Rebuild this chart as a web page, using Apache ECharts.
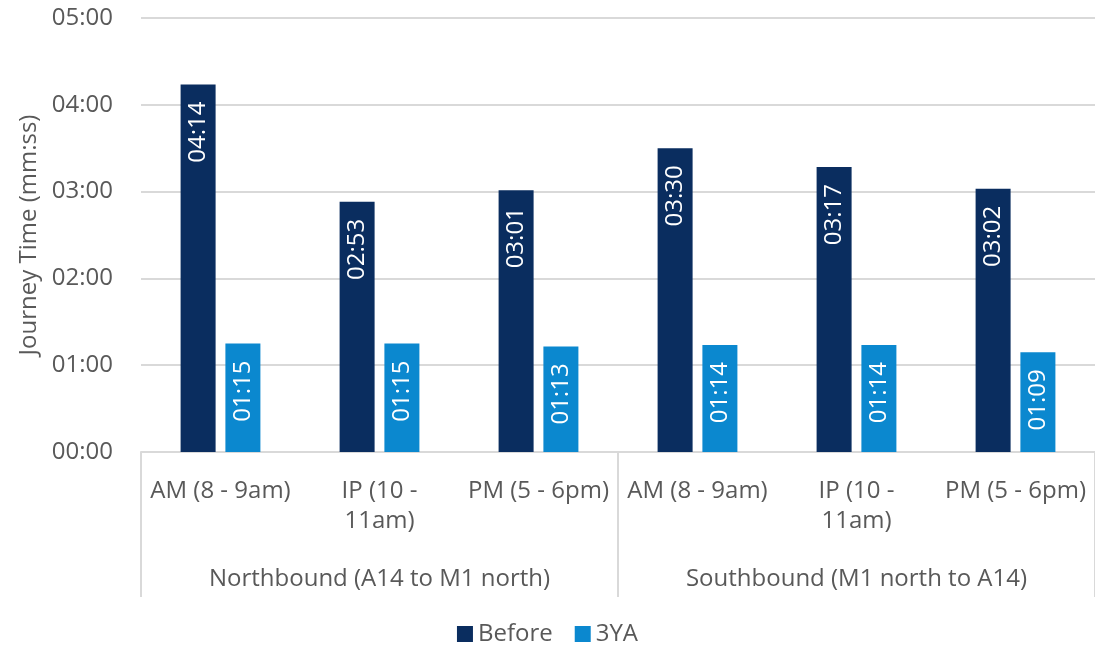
<!DOCTYPE html>
<html>
<head>
<meta charset="utf-8">
<script src="https://cdn.jsdelivr.net/npm/echarts@6/dist/echarts.min.js"></script>
<style>
  html, body { margin: 0; padding: 0; background: #ffffff; }
  #chart { width: 1095px; height: 653px; }
</style>
</head>
<body>
<div id="chart"></div>
<script>
// Journey times in seconds, per time period
const periods = ['AM (8 - 9am)', 'IP (10 -\n11am)', 'PM (5 - 6pm)', 'AM (8 - 9am)', 'IP (10 -\n11am)', 'PM (5 - 6pm)'];
const directions = ['Northbound (A14 to M1 north)', 'Southbound (M1 north to A14)'];
const before = [254, 173, 181, 210, 197, 182];
const threeYA = [75, 75, 73, 74, 74, 69];
const seriesNames = ['Before', '3YA'];

const FONT = '"Open Sans", "Noto Sans", sans-serif';
const TEXT = '#595959';
const LINE = '#d9d9d9';

function mmss(sec) {
  const m = Math.floor(sec / 60);
  const s = Math.round(sec - m * 60);
  return String(m).padStart(2, '0') + ':' + String(s).padStart(2, '0');
}

const chart = echarts.init(document.getElementById('chart'));

const barLabel = {
  show: true,
  position: 'insideTop',
  distance: 17,
  rotate: 90,
  align: 'right',
  verticalAlign: 'middle',
  color: '#ffffff',
  fontFamily: FONT,
  fontSize: 24,
  formatter: p => mmss(p.value)
};

chart.setOption({
  animation: false,
  textStyle: { fontFamily: FONT },
  grid: { left: 141, top: 18, width: 957, height: 434, containLabel: false },
  legend: {
    data: seriesNames,
    bottom: 2,
    left: 'center',
    icon: 'rect',
    itemWidth: 16,
    itemHeight: 16,
    itemGap: 22,
    textStyle: { color: TEXT, fontSize: 24, fontFamily: FONT }
  },
  xAxis: [
    {
      type: 'category',
      data: periods,
      position: 'bottom',
      axisLine: { show: true, lineStyle: { color: LINE, width: 2 } },
      axisTick: { show: false },
      axisLabel: { color: TEXT, fontSize: 24, fontFamily: FONT, margin: 24, lineHeight: 30, interval: 0 }
    },
    {
      type: 'category',
      data: directions,
      position: 'bottom',
      axisLine: { show: false },
      axisTick: { show: true, length: 145, lineStyle: { color: LINE, width: 2 } },
      axisLabel: { color: TEXT, fontSize: 24, fontFamily: FONT, margin: 112, lineHeight: 30, interval: 0 }
    }
  ],
  yAxis: {
    type: 'value',
    min: 0,
    max: 300,
    interval: 60,
    name: 'Journey Time (mm:ss)',
    nameLocation: 'middle',
    nameRotate: 90,
    nameGap: 97,
    nameTextStyle: { color: TEXT, fontSize: 24, fontFamily: FONT },
    axisLine: { show: false },
    axisTick: { show: false },
    axisLabel: { color: TEXT, fontSize: 24, fontFamily: FONT, margin: 28, formatter: v => mmss(v) },
    splitLine: { lineStyle: { color: LINE, width: 2 } }
  },
  series: [
    {
      name: seriesNames[0],
      type: 'bar',
      data: before,
      barWidth: 35,
      barGap: '28%',
      itemStyle: { color: '#0a2d5f' },
      label: barLabel
    },
    {
      name: seriesNames[1],
      type: 'bar',
      data: threeYA,
      barWidth: 35,
      barGap: '28%',
      itemStyle: { color: '#0b88cf' },
      label: barLabel
    }
  ]
});
</script>
</body>
</html>
